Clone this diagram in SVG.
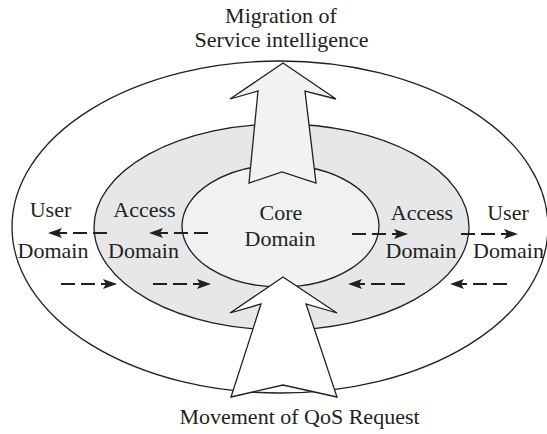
<svg xmlns="http://www.w3.org/2000/svg" width="547" height="434" viewBox="0 0 547 434">
  <style>
    .lbl { font-family: "Liberation Serif", "Times New Roman", serif; font-size: 22px; fill: #231f20; text-anchor: middle; }
    .ring { stroke: #231f20; stroke-width: 1.3; }
    .big { stroke: #231f20; stroke-width: 1.3; stroke-linejoin: miter; }
    .dash { stroke: #231f20; stroke-width: 2.2; fill: none; stroke-dasharray: 14 6; }
  </style>
  <defs>
    <marker id="ah" markerUnits="userSpaceOnUse" markerWidth="16" markerHeight="12" refX="14" refY="5" orient="auto">
      <path d="M0,0 L14,5 L0,10 L3,5 Z" fill="#231f20"/>
    </marker>
  </defs>
  <rect width="547" height="434" fill="#ffffff"/>

  <g id="user-domain">
    <ellipse class="ring" cx="280" cy="227" rx="268" ry="166" fill="#ffffff"/>
    <text class="lbl" x="50.5" y="217">User</text>
    <text class="lbl" x="53" y="258">Domain</text>
    <text class="lbl" x="508" y="220">User</text>
    <text class="lbl" x="508.5" y="258">Domain</text>
  </g>

  <g id="access-domain">
    <ellipse class="ring" cx="281.5" cy="227" rx="187.5" ry="103" fill="#e6e7e8"/>
    <text class="lbl" x="144.5" y="217">Access</text>
    <text class="lbl" x="143.5" y="258">Domain</text>
    <text class="lbl" x="422" y="220">Access</text>
    <text class="lbl" x="421" y="258">Domain</text>
  </g>

  <g id="core-domain">
    <ellipse class="ring" cx="280.5" cy="226" rx="98.5" ry="61" fill="#f0f1f1"/>
    <text class="lbl" x="281" y="220">Core</text>
    <text class="lbl" x="280" y="246">Domain</text>
  </g>

  <g id="connectors">
    <polygon id="migration-arrow" class="big" fill="#f1f2f2" points="283,63 336,99 305,91 316,183 282,172 249,183 258,91 230,99"/>
    <polygon id="qos-arrow" class="big" fill="#ffffff" points="283,277 337,313 306,304 337,397 283,385 231,397 261,304 230,313"/>
    <line class="dash" x1="107" y1="233" x2="48" y2="233" marker-end="url(#ah)"/>
    <line class="dash" x1="208" y1="233" x2="149" y2="233" marker-end="url(#ah)"/>
    <line class="dash" x1="352" y1="234" x2="408" y2="234" marker-end="url(#ah)"/>
    <line class="dash" x1="461" y1="234" x2="518" y2="234" marker-end="url(#ah)"/>
    <line class="dash" x1="61" y1="284" x2="117" y2="284" marker-end="url(#ah)"/>
    <line class="dash" x1="153" y1="284" x2="211" y2="284" marker-end="url(#ah)"/>
    <line class="dash" x1="405" y1="284" x2="348" y2="284" marker-end="url(#ah)"/>
    <line class="dash" x1="507" y1="284" x2="450" y2="284" marker-end="url(#ah)"/>
  </g>

  <g id="captions">
    <text class="lbl" x="281" y="23">Migration of</text>
    <text class="lbl" x="281.5" y="47">Service intelligence</text>
    <text class="lbl" x="299.5" y="424">Movement of QoS Request</text>
  </g>
</svg>
